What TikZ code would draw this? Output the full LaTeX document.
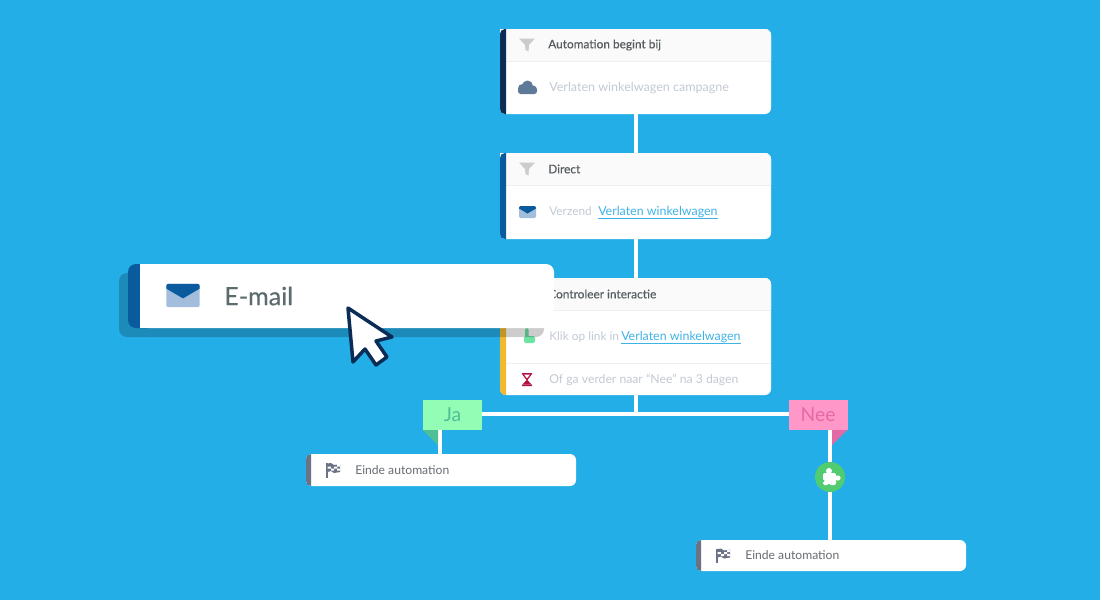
\documentclass[tikz,border=0pt]{standalone}
\usepackage{fontspec}
\setmainfont{Lato}
\newfontfamily\medfont[FakeBold=0.35]{Lato}
\usetikzlibrary{positioning}
\def\px{0.75pt}
\definecolor{bgblue}{HTML}{24AEE8}
\definecolor{barnavy}{HTML}{0A2C55}
\definecolor{barblue}{HTML}{0A5A9E}
\definecolor{baryellow}{HTML}{F0B930}
\definecolor{bargray}{HTML}{6B7285}
\definecolor{cloudgray}{HTML}{5F7A99}
\definecolor{headfill}{HTML}{FAFAFA}
\definecolor{rowline}{HTML}{EFEFEF}
\definecolor{headtext}{HTML}{565C60}
\definecolor{endtext}{HTML}{666C72}
\definecolor{bigtext}{HTML}{5C6B6E}
\definecolor{paletext}{HTML}{C3CAD3}
\definecolor{linkblue}{HTML}{3FB3E6}
\definecolor{jagreen}{HTML}{93FDB6}
\definecolor{jadark}{HTML}{4FC095}
\definecolor{neepink}{HTML}{FF97C8}
\definecolor{needark}{HTML}{E46AA5}
\definecolor{handgreen}{HTML}{6FE3A4}
\definecolor{puzzlegreen}{HTML}{52CC70}
\definecolor{lightmail}{HTML}{A3BEDD}
\definecolor{sandred}{HTML}{B3123F}
\tikzset{
  card/.style={fill=white, rounded corners=6*\px, outer sep=0pt, inner sep=0pt},
  wire/.style={draw=white, line width=4*\px},
  headlabel/.style={anchor=west, inner sep=0pt, text=headtext, font=\medfont\fontsize{8.9}{10}\selectfont},
  palelabel/.style={anchor=base west, inner sep=0pt, text=paletext, font=\fontsize{9.4}{10}\selectfont},
  shortlabel/.style={palelabel, font=\fontsize{8.9}{10}\selectfont},
  linklabel/.style={anchor=base west, inner sep=0pt, text=linkblue, font=\fontsize{9.3}{10}\selectfont},
  endlabel/.style={anchor=west, inner sep=0pt, text=endtext, font=\fontsize{9.1}{10}\selectfont},
  flaglabel/.style={minimum width=59*\px, minimum height=30*\px, inner sep=0pt, outer sep=0pt, font=\fontsize{14.5}{16}\selectfont},
  funnelicon/.pic={\fill[black!20] (-8,-6.5) -- (8,-6.5) -- (2,0) -- (1.5,6.5) -- (-1.5,5) -- (-2,0) -- cycle;},
  mailicon/.pic={
    \fill[lightmail, rounded corners=1] (-8.5,-6) rectangle (8.5,6);
    \fill[barblue] (-8.5,-3.5) [rounded corners=1.5] -- (-8.5,-6) -- (8.5,-6) [sharp corners] -- (8.5,-3.5) -- (0,1.5) -- cycle;},
  cloudicon/.pic={
    \fill[cloudgray] (-5,1) circle (4.5) (0,-1.5) circle (5.5) (5.5,2) circle (4);
    \fill[cloudgray, rounded corners=2] (-9.5,0) rectangle (9.5,6.5);},
  flagicon/.pic={
    \fill[bargray] (-7,-7) rectangle (-5.5,7.5);
    \fill[bargray] (-5.5,-6.5) -- (-2,-7) -- (1,-5) -- (7,-6) -- (7,2) -- (1,3) -- (-2,1) -- (-5.5,2) -- cycle;
    \fill[white] (-5.5,-3.5) rectangle (-2,-1.5) (-2,-1.5) rectangle (1,0.5) (1,-3.5) rectangle (4,-1.5) (4,-1.5) rectangle (7,0.5) (4,-6) rectangle (7,-3.5);},
  hourglassicon/.pic={
    \fill[sandred] (-5,-6.5) rectangle (5,-5) (-5,5) rectangle (5,6.5);
    \draw[sandred, line width=1.2*\px] (-4,-5) -- (0,0) -- (4,-5);
    \fill[sandred] (0,0) -- (4.5,5) -- (-4.5,5) -- cycle;},
}
% left coloured strip of a card: node, colour, width
\newcommand\cardbar[3]{\fill[#2] ([xshift=#3*\px]#1.north west) [rounded corners=5*\px] -- (#1.north west) -- (#1.south west) [sharp corners] -- ([xshift=#3*\px]#1.south west) -- cycle;}
% grey head row of a card: node, height
\newcommand\cardhead[2]{\fill[headfill] (#1.north west) [rounded corners=6*\px] -- (#1.north east) [sharp corners] -- ([yshift=-#2*\px]#1.north east) -- ([yshift=-#2*\px]#1.north west) -- cycle;
  \draw[rowline, line width=\px] ([yshift=-#2*\px]#1.north west) -- ([yshift=-#2*\px]#1.north east);}
\begin{document}
\begin{tikzpicture}[x=\px, y=-\px, line join=round]
	\useasboundingbox (0,0) rectangle (1100,600);
	\fill[bgblue] (0,0) rectangle (1100,600);

	% 1. Cards of the flow
	\node[card, minimum width=271*\px, minimum height=85*\px] (start) at (635.5,71.5) {};
	\node[card, minimum width=271*\px, minimum height=86*\px] (direct) at (635.5,196) {};
	\node[card, minimum width=271*\px, minimum height=117*\px] (check) at (635.5,336.5) {};
	\node[card, minimum width=270*\px, minimum height=32*\px] (endja) at (441,470) {};
	\node[card, minimum width=270*\px, minimum height=31*\px] (endnee) at (831,555.5) {};

	% Flags and the puzzle badge
	\node[flaglabel, fill=jagreen, text=jadark] (ja) at (452.5,415) {Ja};
	\node[flaglabel, fill=neepink, text=needark] (nee) at (818,415) {Nee};
	\node[circle, fill=puzzlegreen, minimum size=30*\px, inner sep=0pt] (puzzle) at (830,477) {};
	\coordinate (split) at (635.5,414);
	\coordinate (jafoot) at (440,454);

	% 2. White wires between them
	\draw[wire] (start.south) -- (direct.north);
	\draw[wire] (direct.south) -- (check.north);
	\draw[wire] (check.south) -- (split);
	\draw[wire] (ja.east |- split) -- (nee.west |- split);
	\draw[wire] (ja.south -| jafoot) -- (jafoot);
	\draw[wire] (nee.south -| puzzle) -- (puzzle);
	\draw[wire] (puzzle) -- (puzzle |- endnee.north);

	% Folded flag corners
	\fill[jadark] (423,430) -- (438,430) -- (438,445) -- cycle;
	\fill[needark] (832,430) -- (847,430) -- (832,445) -- cycle;

	% Puzzle piece
	\fill[white, rounded corners=1] (823,473) rectangle (836,485);
	\fill[white] (829,471) circle (3) (838,478) circle (2.6);
	\fill[puzzlegreen] (823,481) circle (1.6) (829,486) circle (2);

	% 3. Head rows and strips
	\cardhead{start}{32}
	\cardhead{direct}{32}
	\cardhead{check}{32}
	\draw[rowline, line width=\px] ([yshift=-85*\px]check.north west) -- ([yshift=-85*\px]check.north east);
	\cardbar{start}{barnavy}{6}
	\cardbar{direct}{barblue}{6}
	\cardbar{check}{baryellow}{6}
	\cardbar{endja}{bargray}{5}
	\cardbar{endnee}{bargray}{5}

	% 4. Icons
	\pic at (527,45) {funnelicon};
	\pic at (527.5,87.5) {cloudicon};
	\pic at (527,169) {funnelicon};
	\pic at (527.5,212) {mailicon};
	\pic at (527,379.5) {hourglassicon};
	\pic at (333,470) {flagicon};
	\pic at (723,555.5) {flagicon};
	\fill[handgreen, rounded corners=1.5] (525,328) rectangle (528.5,340) (524,336) rectangle (535,343);

	% 5. Texts
	\node[headlabel] (starthead) at (548,45) {Automation begint bij};
	\node[palelabel] (startrow) at (549,91) {Verlaten winkelwagen campagne};
	\node[headlabel] (directhead) at (548,169) {Direct};
	\node[shortlabel] (directrow) at (549,215) {Verzend};
	\node[linklabel] (directlink) at (598,215) {Verlaten winkelwagen};
	\node[headlabel] (checkhead) at (548,294) {Controleer interactie};
	\node[shortlabel] (checkrow) at (549,340) {Klik op link in};
	\node[linklabel] (checklink) at (621,340) {Verlaten winkelwagen};
	\node[palelabel, font=\fontsize{9.15}{10}\selectfont] (waitrow) at (549,383) {Of ga verder naar ``Nee'' na 3 dagen};
	\node[endlabel] (endjatext) at (355,470) {Einde automation};
	\node[endlabel] (endneetext) at (745,555.5) {Einde automation};
	\draw[linkblue, line width=0.9*\px] ([yshift=-3.5*\px]directlink.base west) -- ([yshift=-3.5*\px]directlink.base east);
	\draw[linkblue, line width=0.9*\px] ([yshift=-3.5*\px]checklink.base west) -- ([yshift=-3.5*\px]checklink.base east);

	% 6. Dragged e-mail block with its shadow
	\fill[black, opacity=0.2, rounded corners=8*\px] (119,273) rectangle (544,337);
	\fill[barblue, rounded corners=8*\px] (128,264) rectangle (160,328);
	\node[card, rounded corners=8*\px, minimum width=414*\px, minimum height=64*\px] (email) at (347,296) {};
	\fill[white] (140,264) rectangle (160,328);
	\pic[scale=1.95] at (183,295.5) {mailicon};
	\node[anchor=west, inner sep=0pt, text=bigtext, font=\medfont\fontsize{18.8}{20}\selectfont] (emailtext) at (224,296) {E-mail};

	% Cursor
	\draw[fill=white, draw=barnavy, line width=3.5*\px] (348,308) -- (353,362) -- (365,349) -- (376,365) -- (387,357) -- (376,341) -- (392,337) -- cycle;
\end{tikzpicture}
\end{document}
